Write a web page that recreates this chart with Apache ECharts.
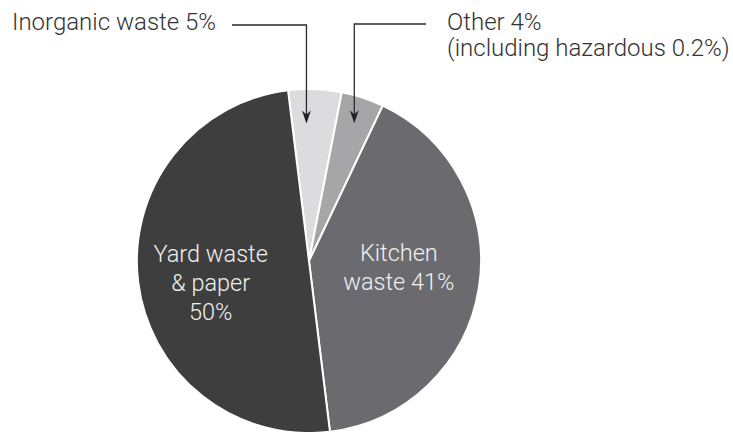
<!DOCTYPE html>
<html><head><meta charset="utf-8">
<script src="https://cdn.jsdelivr.net/npm/echarts@6/dist/echarts.min.js"></script>
<style>html,body{margin:0;padding:0;background:#fff}#c{width:733px;height:432px}</style>
</head><body><div id="c"></div>
<script>
// ---- data ----
const categories = ['Inorganic waste', 'Other', 'Kitchen waste', 'Yard waste & paper'];
const values = [5, 4, 41, 50];
const labelTexts = ['Inorganic waste 5%', 'Other 4%\n(including hazardous 0.2%)', 'Kitchen\nwaste 41%', 'Yard waste\n& paper\n50%'];
const colors = ['#dcdcdf', '#a6a6a9', '#6b6b6f', '#3e3e3e'];

const FONT = 'Roboto';
const chart = echarts.init(document.getElementById('c'), null, {renderer: 'svg'});
const insideShift = {2: [1, -4], 3: [-5, 5.5]};

chart.setOption({
  animation: false,
  series: [{
    type: 'pie',
    center: [309, 261],
    radius: [0, 172],
    startAngle: 97.0,
    clockwise: true,
    avoidLabelOverlap: false,
    itemStyle: {borderColor: '#fff', borderWidth: 2},
    label: {
      show: true, position: 'inside', color: '#f0f0f0',
      fontFamily: FONT, fontWeight: 300, fontSize: 23.5, lineHeight: 29,
      formatter: p => labelTexts[p.dataIndex]
    },
    labelLine: {show: false},
    labelLayout: p => insideShift[p.dataIndex] ? {dx: insideShift[p.dataIndex][0], dy: insideShift[p.dataIndex][1]} : {},
    emphasis: {disabled: true},
    data: categories.map((n, i) => ({
      name: n, value: values[i],
      itemStyle: {color: colors[i]},
      label: {show: i >= 2}
    }))
  }]
});

// callouts derived from the library's pie layout
const callouts = [
  {idx: 0, frac: 0.33, rr: 0.8, lineY: 25, lineEndX: 232, textX: 12, textY: 9},
  {idx: 1, frac: 0.5, rr: 0.843, lineY: 24, lineEndX: 426, textX: 447, textY: 9}
];
const pieData = chart.getModel().getSeriesByIndex(0).getData();
const graphics = [];
callouts.forEach(c => {
  const L = pieData.getItemLayout(c.idx);
  const a = L.startAngle + (L.endAngle - L.startAngle) * c.frac;
  const tx = L.cx + Math.cos(a) * L.r * c.rr;
  const ty = L.cy + Math.sin(a) * L.r * c.rr;
  graphics.push({
    type: 'polyline', silent: true, z: 100,
    shape: {points: [[c.lineEndX, c.lineY], [tx, c.lineY], [tx, ty - 8]]},
    style: {stroke: '#2a2a2a', lineWidth: 1.3, fill: null}
  });
  graphics.push({
    type: 'polygon', silent: true, z: 100,
    shape: {points: [[tx, ty], [tx - 4.5, ty - 13], [tx, ty - 9], [tx + 4.5, ty - 13]]},
    style: {fill: '#222', stroke: null}
  });
  graphics.push({
    type: 'text', silent: true, z: 100, x: c.textX, y: c.textY,
    style: {text: labelTexts[c.idx], fill: '#333', font: '300 24px ' + FONT, lineHeight: 26,
            textAlign: 'left', textVerticalAlign: 'top'}
  });
});
chart.setOption({graphic: graphics});
</script></body></html>
